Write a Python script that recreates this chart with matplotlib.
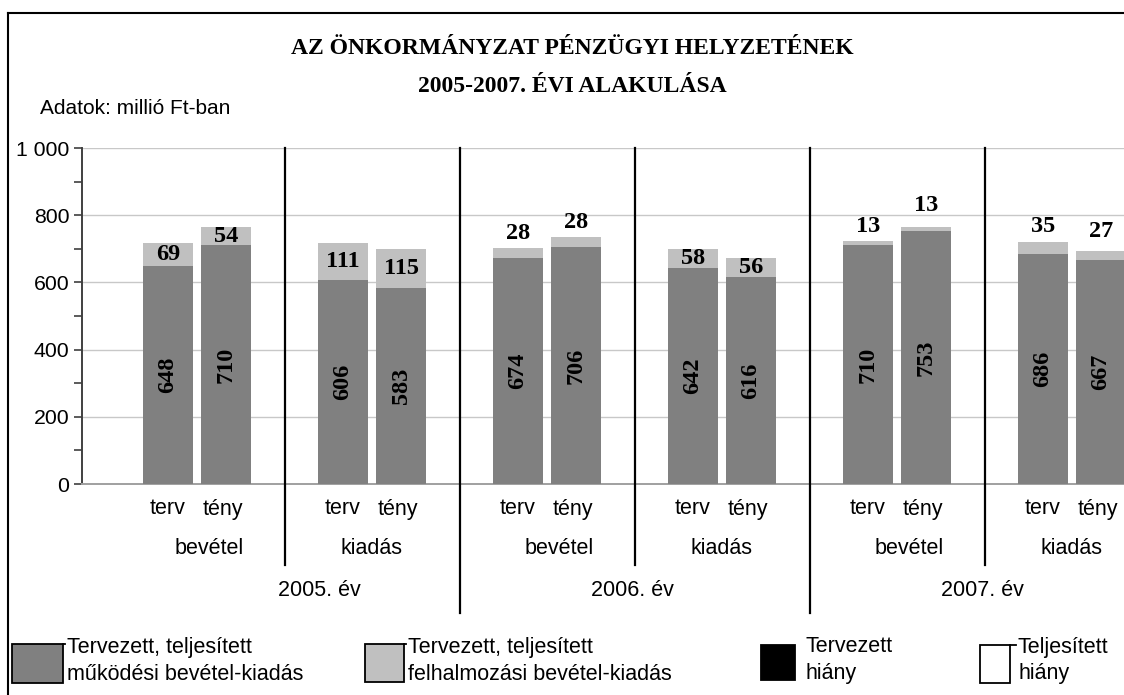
import matplotlib
matplotlib.use("Agg")
import matplotlib.pyplot as plt
from matplotlib.patches import Rectangle
from matplotlib.lines import Line2D

# ---- data ----
years = ["2005. év", "2006. év", "2007. év"]
groups = ["bevétel", "kiadás", "bevétel", "kiadás", "bevétel", "kiadás"]
subcats = ["terv", "tény"]
mukodesi_terv = [648, 606, 674, 642, 710, 686]
mukodesi_teny = [710, 583, 706, 616, 753, 667]
felhalm_terv = [69, 111, 28, 58, 13, 35]
felhalm_teny = [54, 115, 28, 56, 13, 27]
legend_labels = ["Tervezett, teljesített\nműködési bevétel-kiadás",
                 "Tervezett, teljesített\nfelhalmozási bevétel-kiadás",
                 "Tervezett\nhiány",
                 "Teljesített\nhiány"]
yticks = [0, 200, 400, 600, 800, 1000]
ytick_labels = ["0", "200", "400", "600", "800", "1 000"]

# ---- style / layout ----
W, H = 1124, 695
DARK = "#808080"
LIGHT = "#c0c0c0"
SANS = "Liberation Sans"
SERIF = "Liberation Serif"
top_in_terv = [True, True, False, True, False, False]
top_in_teny = [True, True, False, True, False, False]
above_off_terv = [0, 0, 45, 0, 42, 44]
above_off_teny = [0, 0, 43, 0, 64, 56]

fig = plt.figure(figsize=(W / 100, H / 100), dpi=100)


def fx(x):
    return x / W


def fy(y):
    return 1 - y / H


ax = fig.add_axes([fx(82), fy(484), fx(1124) - fx(82), fy(148) - fy(484)])
ax.set_xlim((82 - 197) / 175, (1124 - 197) / 175)
ax.set_ylim(0, 1000)

ax.set_yticks(yticks)
ax.set_yticklabels(ytick_labels, fontsize=15.3, family=SANS)
ax.set_yticks(range(100, 1000, 200), minor=True)
ax.tick_params(axis="y", which="major", length=6, width=1.2, color="#404040", pad=3)
ax.tick_params(axis="y", which="minor", length=6, width=1.2, color="#404040")
ax.set_xticks([])
for s in ["top", "right"]:
    ax.spines[s].set_visible(False)
ax.spines["left"].set_color("#404040")
ax.spines["left"].set_linewidth(1.4)
ax.spines["bottom"].set_color("#a0a0a0")
ax.spines["bottom"].set_linewidth(1.4)
ax.yaxis.grid(True, color="#c8c8c8", linewidth=1.0)
ax.set_axisbelow(True)

off = 29 / 175
bw = 50 / 175
xs = list(range(len(groups)))
x_terv = [x - off for x in xs]
x_teny = [x + off for x in xs]

ax.bar(x_terv, mukodesi_terv, width=bw, color=DARK, zorder=3)
ax.bar(x_terv, felhalm_terv, bottom=mukodesi_terv, width=bw, color=LIGHT, zorder=3)
ax.bar(x_teny, mukodesi_teny, width=bw, color=DARK, zorder=3)
ax.bar(x_teny, felhalm_teny, bottom=mukodesi_teny, width=bw, color=LIGHT, zorder=3)

lab_kw = dict(family=SERIF, fontweight="bold", fontsize=17.5, zorder=5)
for xp, base, top, inside, offv in [(x_terv, mukodesi_terv, felhalm_terv, top_in_terv, above_off_terv),
                                   (x_teny, mukodesi_teny, felhalm_teny, top_in_teny, above_off_teny)]:
    for i in range(len(xp)):
        ax.text(xp[i], base[i] / 2, str(base[i]), rotation=90, ha="center", va="center", **lab_kw)
        if inside[i]:
            ty = base[i] + top[i] / 2
        else:
            ty = base[i] + top[i] + offv[i]
        ax.text(xp[i], ty, str(top[i]), ha="center", va="center", **lab_kw)

# separators
sep_short_bottom = (484 - 565) / 0.336
sep_long_bottom = (484 - 613) / 0.336
for k in range(1, len(groups)):
    xsep = k - 0.5
    yb = sep_long_bottom if k % 2 == 0 else sep_short_bottom
    ax.plot([xsep, xsep], [1000, yb], color="black", lw=1.6, clip_on=False, zorder=4)

# category labels
txt_kw = dict(family=SANS, fontsize=15.5, ha="center", va="center")
y_sub = (484 - 509) / 0.336
y_grp = (484 - 548) / 0.336
y_year = (484 - 590) / 0.336
for i in xs:
    ax.text(x_terv[i], y_sub, subcats[0], **txt_kw)
    ax.text(x_teny[i] - 0.02, y_sub, subcats[1], **txt_kw)
    gx = i + (0.07 if groups[i] == "bevétel" else 0.0)
    ax.text(gx, y_grp, groups[i], **txt_kw)
year_x = [(319 - 197) / 175, (632 - 197) / 175, (982 - 197) / 175]
for yx, yl in zip(year_x, years):
    ax.text(yx, y_year, yl, **txt_kw)

# title and note
fig.text(fx(572), fy(48), "AZ ÖNKORMÁNYZAT PÉNZÜGYI HELYZETÉNEK", family=SERIF, fontweight="bold",
         fontsize=17, ha="center", va="center")
fig.text(fx(572), fy(87), "2005-2007. ÉVI ALAKULÁSA", family=SERIF, fontweight="bold",
         fontsize=17, ha="center", va="center")
fig.text(fx(40), fy(108), "Adatok: millió Ft-ban", family=SANS, fontsize=15, ha="left", va="center")

# frame
fig.add_artist(Line2D([fx(8), fx(8)], [fy(13), 0], color="black", lw=1.5))
fig.add_artist(Line2D([fx(8), 1], [fy(13), fy(13)], color="black", lw=1.5))

# legend
leg_boxes = [(12, 644, 51, 39, DARK), (365, 644, 39, 38, LIGHT), (761, 645, 34, 35, "black"),
             (980, 645, 30, 38, "white")]
leg_text_x = [67, 408, 805, 1018]
for (bx, by, bwid, bh, col), tx, lab in zip(leg_boxes, leg_text_x, legend_labels):
    fig.patches.append(Rectangle((fx(bx), fy(by + bh)), bwid / W, bh / H, transform=fig.transFigure,
                                 facecolor=col, edgecolor="black", lw=1.3))
    if col != "black":
        fig.add_artist(Line2D([fx(bx + bwid), fx(tx - 2)], [fy(by), fy(by)], color="black", lw=1.3))
    l1, l2 = lab.split("\n")
    fig.text(fx(tx), fy(647), l1, family=SANS, fontsize=15.5, ha="left", va="center")
    fig.text(fx(tx), fy(674), l2, family=SANS, fontsize=15.5, ha="left", va="center")

fig.savefig("out.png", dpi=100)
